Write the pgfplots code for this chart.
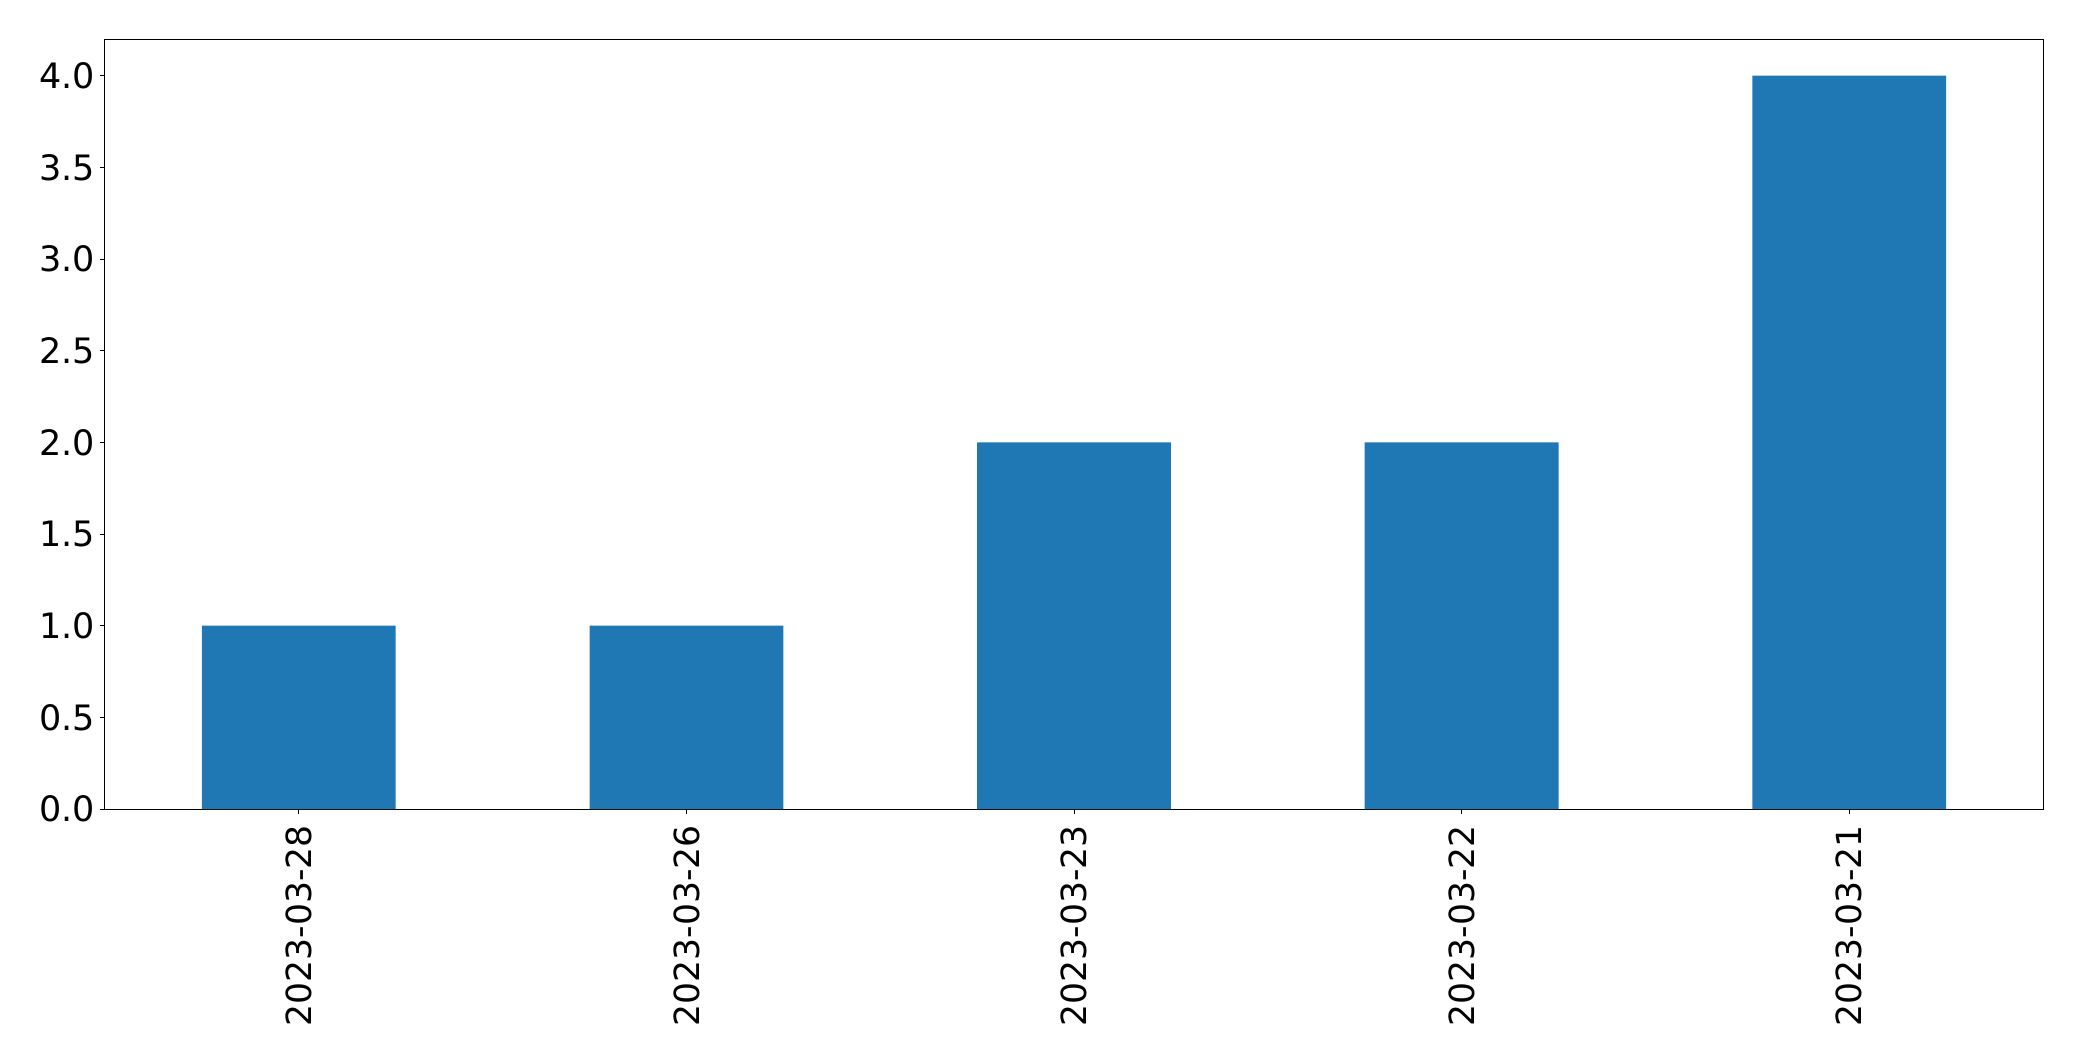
\documentclass[border=0pt]{standalone}
\usepackage{pgfplots}
\pgfplotsset{compat=1.18}
\usepackage{fontspec}
\setmainfont{DejaVu Sans}
\definecolor{mplblue}{HTML}{1F77B4}
\begin{document}
\begin{tikzpicture}
\useasboundingbox (-52.5pt,-126pt) rectangle (988.5pt,404.5pt);
\begin{axis}[
  at={(0pt,0pt)}, anchor=south west,
  scale only axis, width=969pt, height=385pt,
  xmin=-0.5, xmax=4.5, ymin=0, ymax=4.2,
  xtick={0,1,2,3,4},
  xticklabels={2023-03-28,2023-03-26,2023-03-23,2023-03-22,2023-03-21},
  ytick={0,0.5,1,1.5,2,2.5,3,3.5,4},
  y tick label style={font=\fontsize{17.5}{20}\selectfont, /pgf/number format/fixed, /pgf/number format/fixed zerofill, /pgf/number format/precision=1},
  /pgf/number format/assume math mode=true,
  x tick label style={rotate=90, anchor=east, font=\fontsize{17.3}{20}\selectfont},
  tick align=outside, tick pos=left,
  major tick length=2.5pt,
  axis line style={line width=0.5pt},
  every tick/.style={black, line width=0.5pt},
  xticklabel shift=2pt, yticklabel shift=-1pt,
]
\addplot[ybar, bar width=0.5, fill=mplblue, draw=none] coordinates {
  (0,1) (1,1) (2,2) (3,2) (4,4)
};
\end{axis}
\end{tikzpicture}
\end{document}
